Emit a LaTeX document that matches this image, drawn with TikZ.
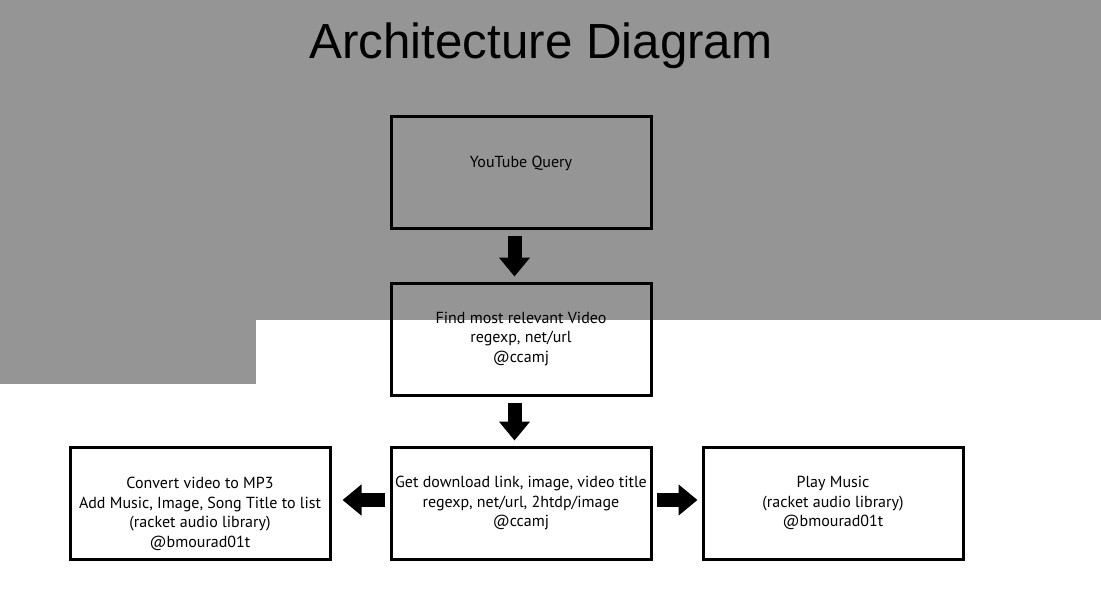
\documentclass[tikz,border=0pt]{standalone}
\usepackage{fontspec}
\setmainfont{PT Sans}
\newfontfamily\titlefont{Liberation Sans}
\usetikzlibrary{arrows.meta}
\definecolor{bggray}{HTML}{959595}

\begin{document}
\begin{tikzpicture}[x=1pt,y=-1pt,
    box/.style={draw,line width=3pt,minimum width=260pt,minimum height=112pt,align=center,inner sep=0pt,
        font=\fontsize{16}{19.5}\selectfont},
    blockarrow/.style={line width=14pt,-{Triangle[length=19pt,width=30pt]}}]
            \useasboundingbox (0,0) rectangle (1101,608);
            \fill[bggray] (0,0) rectangle (1101,320);
            \fill[bggray] (0,320) rectangle (256,384);
            \node[anchor=base,font=\titlefont\fontsize{49.3}{58}\selectfont] (title) at (541,58){Architecture Diagram};
            \node[box] (query) at (521,172){YouTube Query\\ \mbox{}};
            \node[box] (find) at (521,339){Find most relevant Video\\ regexp, net/url\\ @ccamj};
            \node[box] (get) at (521,503){Get download link, image, video title\\ regexp, net/url, 2htdp/image\\ @ccamj};
            \node[box] (convert) at (200,503){\strut\\ Convert video to MP3\\ Add Music, Image, Song Title to list\\ (racket audio library)\\ @bmourad01t};
            \node[box] (play) at (833,503){Play Music\\ (racket audio library)\\ @bmourad01t};
            \draw[blockarrow,shorten <=6pt,shorten >=5pt] ([xshift=-6.5pt]query.south) -- ([xshift=-6.5pt]find.north);
            \draw[blockarrow,shorten <=6pt,shorten >=5pt] ([xshift=-6.5pt]find.south) -- ([xshift=-6.5pt]get.north);
            \draw[blockarrow,shorten <=5pt,shorten >=11pt] ([yshift=3pt]get.west) -- ([yshift=3pt]convert.east);
            \draw[blockarrow,shorten <=4pt,shorten >=4pt] ([yshift=3pt]get.east) -- ([yshift=3pt]play.west);
        \end{tikzpicture}
\end{document}
